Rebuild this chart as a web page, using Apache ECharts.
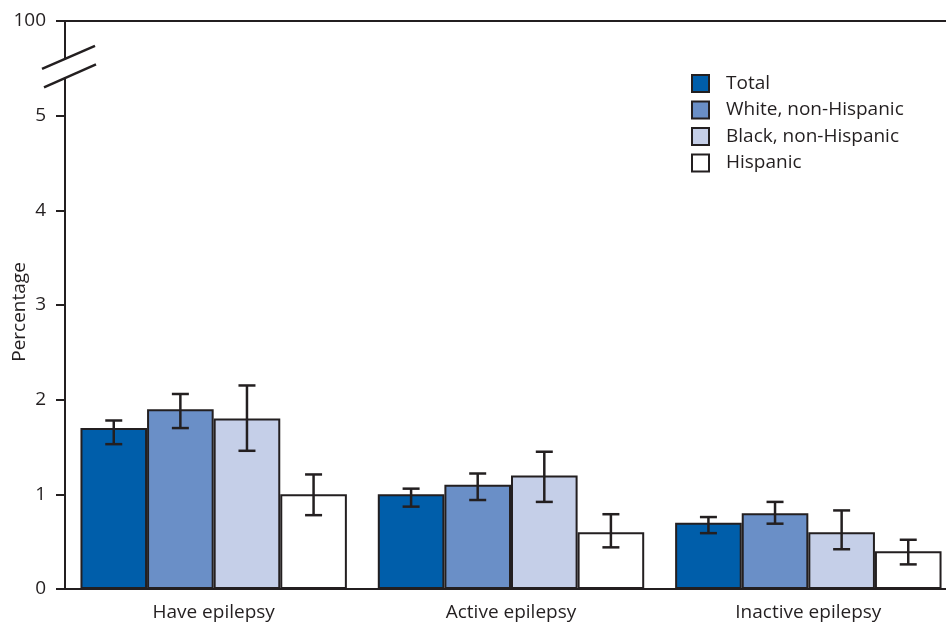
<!DOCTYPE html>
<html><head><meta charset="utf-8">
<script src="https://cdn.jsdelivr.net/npm/echarts@6/dist/echarts.min.js"></script>
<style>html,body{margin:0;padding:0;background:#fff}#c{width:946px;height:628px}</style>
</head><body><div id="c"></div>
<script>
// ---- data ----
const categories = ['Have epilepsy', 'Active epilepsy', 'Inactive epilepsy'];
const seriesNames = ['Total', 'White, non-Hispanic', 'Black, non-Hispanic', 'Hispanic'];
const totalValues    = [1.7, 1.0, 0.7];
const whiteValues    = [1.9, 1.1, 0.8];
const blackValues    = [1.8, 1.2, 0.6];
const hispanicValues = [1.0, 0.6, 0.4];
const totalCI    = [[1.53, 1.78], [0.87, 1.06], [0.59, 0.76]];
const whiteCI    = [[1.70, 2.06], [0.94, 1.22], [0.69, 0.92]];
const blackCI    = [[1.46, 2.15], [0.92, 1.45], [0.42, 0.83]];
const hispanicCI = [[0.78, 1.21], [0.44, 0.79], [0.26, 0.52]];
const yTickLabels = ['0', '1', '2', '3', '4', '5', '100'];

// ---- style ----
const INK = '#231f20';
const colors = ['#005eaa', '#6a8fc7', '#c5cfe8', '#ffffff'];
const FONT = 'Open Sans';
const FS = 19;
const GRID_LEFT = 65, GRID_TOP = 21, GRID_BOTTOM = 39, GRID_WIDTH = 892;
const CAT_GAP = 0.104;

const values = [totalValues, whiteValues, blackValues, hispanicValues];
const cis = [totalCI, whiteCI, blackCI, hispanicCI];

const chart = echarts.init(document.getElementById('c'));

const barSeries = seriesNames.map((n, i) => ({
  name: n, type: 'bar', data: values[i],
  barGap: '0%', barCategoryGap: (CAT_GAP * 100) + '%',
  itemStyle: { color: colors[i], borderColor: INK, borderWidth: 2 },
  emphasis: { disabled: true }, z: 2
}));

const errSeries = cis.map((ci, i) => ({
  name: 'err' + i, type: 'custom', z: 5,
  data: ci.map((d, k) => [k, d[0], d[1]]),
  encode: { x: 0, y: [1, 2] },
  renderItem: function (params, api) {
    const k = api.value(0);
    const band = api.size([1, 0])[0];
    const bw = band * (1 - CAT_GAP) / 4;
    const lo = api.coord([k, api.value(1)]);
    const hi = api.coord([k, api.value(2)]);
    const x = lo[0] + (i - 1.5) * bw;
    const cap = 8.5;
    const st = { stroke: INK, lineWidth: 2.5 };
    return { type: 'group', children: [
      { type: 'line', shape: { x1: x, y1: lo[1], x2: x, y2: hi[1] }, style: st },
      { type: 'line', shape: { x1: x - cap, y1: lo[1], x2: x + cap, y2: lo[1] }, style: st },
      { type: 'line', shape: { x1: x - cap, y1: hi[1], x2: x + cap, y2: hi[1] }, style: st }
    ]};
  }
}));

chart.setOption({
  animation: false,
  backgroundColor: '#fff',
  textStyle: { fontFamily: FONT, color: INK },
  grid: { left: GRID_LEFT, top: GRID_TOP, bottom: GRID_BOTTOM, width: GRID_WIDTH,
          containLabel: false, outerBoundsMode: 'none' },
  legend: {
    data: seriesNames, orient: 'vertical', left: 686, top: 69,
    icon: 'rect', itemWidth: 17, itemHeight: 17, itemGap: 7.5,
    textStyle: { fontSize: FS, lineHeight: 19, color: INK, fontFamily: FONT, padding: [0, 0, 0, 12] },
    selectedMode: false
  },
  xAxis: [{
    type: 'category', data: categories, position: 'bottom',
    axisLine: { lineStyle: { color: INK, width: 2 } },
    axisTick: { alignWithLabel: true, length: 11, lineStyle: { color: INK, width: 2 } },
    axisLabel: { fontSize: FS, color: INK, margin: 14, fontFamily: FONT }
  }, {
    type: 'category', data: categories, position: 'top',
    axisLine: { lineStyle: { color: INK, width: 2 } },
    axisTick: { show: false }, axisLabel: { show: false }
  }],
  yAxis: {
    type: 'value', min: 0, max: 6, interval: 1,
    name: 'Percentage', nameLocation: 'middle', nameGap: 36, nameMoveOverlap: false,
    nameTextStyle: { fontSize: FS, color: INK, fontFamily: FONT, padding: [0, 14, 0, 0] },
    axisLine: { show: true, lineStyle: { color: INK, width: 2 } },
    axisTick: { show: true, length: 9, lineStyle: { color: INK, width: 2 } },
    axisLabel: { fontSize: FS, color: INK, margin: 19, fontFamily: FONT,
      formatter: v => yTickLabels[Math.round(v)] },
    splitLine: { show: false }
  },
  series: barSeries.concat(errSeries)
});

// axis break decoration
const yb = chart.convertToPixel({ yAxisIndex: 0 }, 5.5);
const ax = GRID_LEFT;
chart.setOption({
  graphic: [
    { type: 'rect', z: 100, shape: { x: ax - 3, y: yb - 9, width: 6, height: 18 }, style: { fill: '#fff' } },
    { type: 'line', z: 101, shape: { x1: ax - 23, y1: yb + 0.5, x2: ax + 30, y2: yb - 22.5 }, style: { stroke: INK, lineWidth: 2.5 } },
    { type: 'line', z: 101, shape: { x1: ax - 21, y1: yb + 19, x2: ax + 31, y2: yb - 4 }, style: { stroke: INK, lineWidth: 2.5 } }
  ]
});
</script>
</body></html>
